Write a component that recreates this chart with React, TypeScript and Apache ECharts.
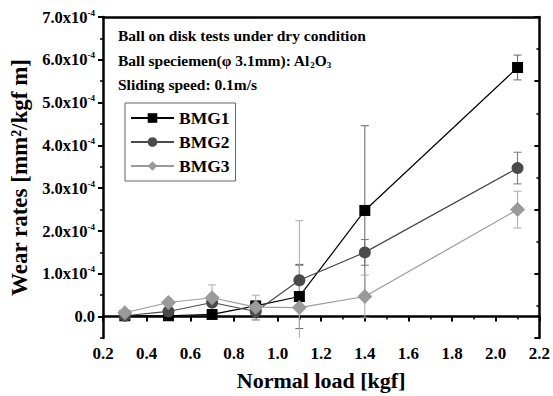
import React, { useEffect, useRef } from "react";
import * as echarts from "echarts";

const loads = [0.3, 0.5, 0.7, 0.9, 1.1, 1.4, 2.1];
const bmg1 = [0.02, 0.02, 0.05, 0.25, 0.47, 2.48, 5.82];
const bmg2 = [0.02, 0.12, 0.33, 0.12, 0.85, 1.5, 3.47];
const bmg3 = [0.09, 0.33, 0.44, 0.22, 0.21, 0.47, 2.5];
const err1 = [0.02, 0.03, 0.05, 0.1, 0.75, 1.98, 0.29];
const err2 = [0.03, 0.05, 0.1, 0.2, 0.35, 0.3, 0.37];
const err3 = [0.03, 0.08, 0.3, 0.28, 2.03, 0.5, 0.43];
const yMajor = [0, 1, 2, 3, 4, 5, 6, 7];
const yMinor = [-0.5, 0.5, 1.5, 2.5, 3.5, 4.5, 5.5, 6.5];
const Y_MIN = -0.5;
const Y_MAX = 7;

const FONT = "'Liberation Serif', 'Times New Roman', serif";

function errData(vals: number[], errs: number[]) {
  return loads.map((x, i) => [x, vals[i] - errs[i], vals[i] + errs[i]]);
}

function errSeries(vals: number[], errs: number[], color: string) {
  return {
    type: "custom",
    silent: true,
    z: 1,
    data: errData(vals, errs),
    encode: { x: 0, y: [1, 2] },
    renderItem: (params: any, api: any) => {
      const x = api.value(0);
      const loRaw = api.value(1);
      const lo = Math.max(loRaw, Y_MIN);
      const hi = api.value(2);
      const pHi = api.coord([x, hi]);
      const pLo = api.coord([x, lo]);
      const cw = 4;
      const style = { stroke: color, lineWidth: 1 };
      const children: any[] = [
        { type: "line", shape: { x1: pHi[0], y1: pHi[1], x2: pLo[0], y2: pLo[1] }, style },
        { type: "line", shape: { x1: pHi[0] - cw, y1: pHi[1], x2: pHi[0] + cw, y2: pHi[1] }, style },
      ];
      if (loRaw >= Y_MIN) {
        children.push({ type: "line", shape: { x1: pLo[0] - cw, y1: pLo[1], x2: pLo[0] + cw, y2: pLo[1] }, style });
      }
      return { type: "group", children };
    },
  };
}

export default function App() {
  const ref = useRef<HTMLDivElement>(null);
  useEffect(() => {
    if (!ref.current) return;
    const chart = echarts.init(ref.current, null, { renderer: "svg" });
    const labelStyle = { fontFamily: FONT, fontWeight: "bold", color: "#000" };
    const option: any = {
      animation: false,
      backgroundColor: "#fff",
      grid: { left: 103, right: 12, top: 17, bottom: 57 },
      xAxis: [
        {
          type: "value",
          min: 0.2,
          max: 2.2,
          interval: 0.2,
          name: "Normal load [kgf]",
          nameLocation: "middle",
          nameGap: 31,
          nameTextStyle: { ...labelStyle, fontSize: 22 },
          axisLine: { show: true, lineStyle: { color: "#000", width: 2.5 } },
          axisTick: { show: true, inside: false, length: 5, lineStyle: { color: "#000", width: 2 } },
          minorTick: { show: true, splitNumber: 2, length: 3, lineStyle: { color: "#000", width: 1.5 } },
          axisLabel: { ...labelStyle, fontSize: 17, margin: 7, formatter: (v: number) => v.toFixed(1) },
          splitLine: { show: false },
        },
        {
          type: "value",
          position: "top",
          min: 0.2,
          max: 2.2,
          axisLine: { show: true, onZero: false, lineStyle: { color: "#000", width: 2.5 } },
          axisTick: { show: false },
          axisLabel: { show: false },
          splitLine: { show: false },
        },
      ],
      yAxis: [
        {
          type: "value",
          min: Y_MIN,
          max: Y_MAX,
          name: "Wear rates [mm²/kgf m]",
          nameLocation: "middle",
          nameGap: 70,
          nameTextStyle: { ...labelStyle, fontSize: 23 },
          axisLine: { show: true, onZero: false, lineStyle: { color: "#000", width: 2.5 } },
          axisTick: { show: true, inside: false, length: 5, customValues: yMajor, lineStyle: { color: "#000", width: 2 } },
          axisLabel: {
            ...labelStyle,
            fontSize: 16,
            margin: 8,
            customValues: yMajor,
            formatter: (v: number) => (v === 0 ? "{a|0.0}" : `{a|${v.toFixed(1)}x10}{s|-4}`),
            rich: {
              a: { fontFamily: FONT, fontWeight: "bold", fontSize: 16.5, lineHeight: 18, color: "#000" },
              s: { fontFamily: FONT, fontWeight: "bold", fontSize: 9, lineHeight: 18, verticalAlign: "top", color: "#000" },
            },
          },
          splitLine: { show: false },
        },
        {
          type: "value",
          min: Y_MIN,
          max: Y_MAX,
          position: "left",
          axisLine: { show: false },
          axisTick: { show: true, inside: false, length: 3, customValues: yMinor, lineStyle: { color: "#000", width: 1.5 } },
          axisLabel: { show: false },
          splitLine: { show: false },
        },
        {
          type: "value",
          position: "right",
          min: 0,
          max: 5,
          interval: 1,
          axisLine: { show: true, onZero: false, lineStyle: { color: "#000", width: 2.5 } },
          axisTick: { show: true, inside: true, length: 5, lineStyle: { color: "#000", width: 2 } },
          minorTick: { show: true, splitNumber: 2, length: 3, lineStyle: { color: "#000", width: 1.5 } },
          axisLabel: { show: false },
          splitLine: { show: false },
        },
      ],
      legend: {
        orient: "vertical",
        left: 125,
        top: 103,
        padding: [6, 6, 6, 5],
        itemGap: 6,
        itemWidth: 43,
        itemHeight: 12,
        borderColor: "#666",
        borderWidth: 1,
        backgroundColor: "#fff",
        textStyle: { fontFamily: FONT, fontWeight: "bold", fontSize: 17.5, lineHeight: 16, color: "#000", padding: [0, 0, 0, 0] },
        data: ["BMG1", "BMG2", "BMG3"],
      },
      graphic: [
        {
          type: "text",
          left: 118,
          top: 27,
          style: { text: "Ball on disk tests under dry condition", font: `bold 15.5px ${FONT}`, fill: "#000" },
        },
        {
          type: "text",
          left: 118,
          top: 52,
          style: {
            text: "{a|Ball speciemen(φ 3.1mm): Al}{b|2}{a|O}{b|3}",
            rich: {
              a: { fontFamily: FONT, fontWeight: "bold", fontSize: 15.5, lineHeight: 19, fill: "#000" },
              b: { fontFamily: FONT, fontWeight: "bold", fontSize: 9, lineHeight: 19, verticalAlign: "bottom", fill: "#000" },
            },
          },
        },
        {
          type: "text",
          left: 118,
          top: 76,
          style: { text: "Sliding speed: 0.1m/s", font: `bold 15.5px ${FONT}`, fill: "#000" },
        },
      ],
      series: [
        errSeries(bmg1, err1, "#666"),
        errSeries(bmg2, err2, "#777"),
        errSeries(bmg3, err3, "#aaa"),
        {
          name: "BMG1",
          type: "line",
          z: 3,
          data: loads.map((x, i) => [x, bmg1[i]]),
          symbol: "rect",
          symbolSize: 11,
          color: "#000",
          lineStyle: { color: "#000", width: 1.2 },
          itemStyle: { color: "#000" },
        },
        {
          name: "BMG2",
          type: "line",
          z: 3,
          data: loads.map((x, i) => [x, bmg2[i]]),
          symbol: "circle",
          symbolSize: 12,
          color: "#4a4a4a",
          lineStyle: { color: "#4a4a4a", width: 1.2 },
          itemStyle: { color: "#4a4a4a" },
        },
        {
          name: "BMG3",
          type: "line",
          z: 3,
          data: loads.map((x, i) => [x, bmg3[i]]),
          symbol: "diamond",
          symbolSize: 15,
          color: "#9a9a9a",
          lineStyle: { color: "#9a9a9a", width: 1.2 },
          itemStyle: { color: "#9a9a9a" },
        },
      ],
    };
    chart.setOption(option);
    return () => chart.dispose();
  }, []);
  return (
    <div
      ref={ref}
      style={{ position: "fixed", left: 0, top: 0, width: 553, height: 396, background: "#fff" }}
    />
  );
}
